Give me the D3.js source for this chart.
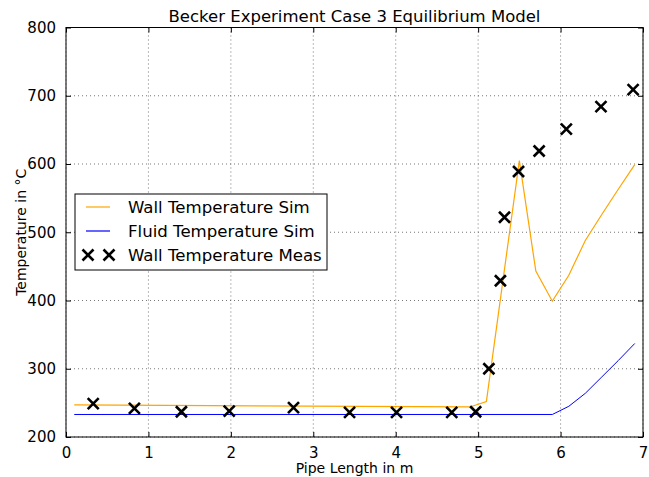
<!DOCTYPE html>
<html>
<head>
<meta charset="utf-8">
<script src="https://cdn.jsdelivr.net/npm/d3@7/dist/d3.min.js"></script>
<style>
  body { margin: 0; background: #fff; }
  svg { font-family: "DejaVu Sans", sans-serif; }
</style>
</head>
<body>
<div id="chart"></div>
<script>
  // wall temperature from the simulation
  var wallSimX = [0.1, 4.9, 5.1, 5.5, 5.7, 5.9, 6.1, 6.3, 6.5, 6.7, 6.9];
  var wallSimT = [247, 244, 252, 605, 443, 399, 437, 488, 526, 563, 599];

  // fluid temperature from the simulation
  var fluidSimX = [0.1, 5.9, 6.1, 6.3, 6.5, 6.7, 6.9];
  var fluidSimT = [233, 233, 245, 264, 288, 312, 337];

  // measured wall temperature
  var wallMeasX = [0.33, 0.83, 1.40, 1.98, 2.76, 3.44, 4.01, 4.68, 4.97, 5.13, 5.27, 5.32, 5.49, 5.74, 6.07, 6.49, 6.88];
  var wallMeasT = [249, 242, 237, 238, 243, 236, 236, 236, 237, 300, 429, 522, 589, 619, 651, 684, 709];

  var xTicks = [0, 1, 2, 3, 4, 5, 6, 7];
  var yTicks = [200, 300, 400, 500, 600, 700, 800];

  var seriesNames = ["Wall Temperature Sim", "Fluid Temperature Sim", "Wall Temperature Meas"];
  var seriesColors = ["#ffa500", "#0000ff", "#000000"];

  var width = 649, height = 477;
  var margin = {top: 27.5, right: 6, bottom: 40, left: 66};
  var innerW = width - margin.left - margin.right,
    innerH = height - margin.top - margin.bottom;

  var svg = d3.select("#chart")
    .append("svg")
    .attr("width", width)
    .attr("height", height);

  var g = svg.append("g")
    .attr("transform", "translate(" + margin.left + "," + margin.top + ")");

  var x = d3.scaleLinear().domain([0, 7]).range([0, innerW]);
  var y = d3.scaleLinear().domain([200, 800]).range([innerH, 0]);

  // dotted grid
  g.append("g")
    .selectAll("line")
    .data(xTicks)
    .enter().append("line")
    .attr("x1", function (d) { return x(d); })
    .attr("x2", function (d) { return x(d); })
    .attr("y1", 0)
    .attr("y2", innerH)
    .attr("stroke", "#555")
    .attr("stroke-width", 0.8)
    .attr("stroke-dasharray", "1,3");

  g.append("g")
    .selectAll("line")
    .data(yTicks)
    .enter().append("line")
    .attr("x1", 0)
    .attr("x2", innerW)
    .attr("y1", function (d) { return y(d); })
    .attr("y2", function (d) { return y(d); })
    .attr("stroke", "#555")
    .attr("stroke-width", 0.8)
    .attr("stroke-dasharray", "1,3");

  // axes, ticks pointing inward on all sides
  var xAxis = d3.axisBottom(x).tickValues(xTicks).tickFormat(d3.format("d"))
    .tickSizeInner(-5).tickSizeOuter(0).tickPadding(10);
  var yAxis = d3.axisLeft(y).tickValues(yTicks).tickFormat(d3.format("d"))
    .tickSizeInner(-5).tickSizeOuter(0).tickPadding(10);

  g.append("g")
    .attr("class", "x axis")
    .attr("transform", "translate(0," + innerH + ")")
    .call(xAxis);
  g.append("g")
    .attr("class", "y axis")
    .call(yAxis);
  g.append("g")
    .call(d3.axisTop(x).tickValues(xTicks).tickSizeInner(-5).tickSizeOuter(0).tickFormat(""));
  g.append("g")
    .attr("transform", "translate(" + innerW + ",0)")
    .call(d3.axisRight(y).tickValues(yTicks).tickSizeInner(-5).tickSizeOuter(0).tickFormat(""));

  g.selectAll(".domain").remove();
  g.selectAll(".tick text")
    .attr("font-size", "15px")
    .attr("font-family", "DejaVu Sans")
    .attr("fill", "#000");
  g.selectAll(".tick line").attr("stroke", "#000");

  g.append("rect")
    .attr("width", innerW)
    .attr("height", innerH)
    .attr("fill", "none")
    .attr("stroke", "#000")
    .attr("stroke-width", 1);

  var line = d3.line()
    .x(function (d) { return x(d[0]); })
    .y(function (d) { return y(d[1]); });

  var wallSim = wallSimX.map(function (d, i) { return [d, wallSimT[i]]; });
  var fluidSim = fluidSimX.map(function (d, i) { return [d, fluidSimT[i]]; });
  var wallMeas = wallMeasX.map(function (d, i) { return [d, wallMeasT[i]]; });

  g.append("path")
    .datum(wallSim)
    .attr("d", line)
    .attr("fill", "none")
    .attr("stroke", seriesColors[0])
    .attr("stroke-width", 1.2);

  g.append("path")
    .datum(fluidSim)
    .attr("d", line)
    .attr("fill", "none")
    .attr("stroke", seriesColors[1])
    .attr("stroke-width", 1);

  var cross = function (sel) {
    var s = 5.5;
    sel.append("path")
      .attr("d", "M" + (-s) + "," + (-s) + "L" + s + "," + s + "M" + (-s) + "," + s + "L" + s + "," + (-s))
      .attr("stroke", seriesColors[2])
      .attr("stroke-width", 2.6)
      .attr("fill", "none");
  };

  g.append("g")
    .selectAll("g")
    .data(wallMeas)
    .enter().append("g")
    .attr("transform", function (d) { return "translate(" + x(d[0]) + "," + y(d[1]) + ")"; })
    .call(cross);

  // legend
  var legend = svg.append("g").attr("transform", "translate(75,194)");
  legend.append("rect")
    .attr("width", 252)
    .attr("height", 76)
    .attr("fill", "#fff")
    .attr("stroke", "#000")
    .attr("stroke-width", 1);

  var rows = legend.selectAll(".legend")
    .data(seriesNames)
    .enter().append("g")
    .attr("class", "legend")
    .attr("transform", function (d, i) { return "translate(0," + (13 + i * 24) + ")"; });

  rows.each(function (d, i) {
    var r = d3.select(this);
    if (i < 2) {
      r.append("line")
        .attr("x1", 11).attr("x2", 35)
        .attr("y1", 0).attr("y2", 0)
        .attr("stroke", seriesColors[i])
        .attr("stroke-width", 1.2);
    } else {
      r.append("g").attr("transform", "translate(13,0)").call(cross);
      r.append("g").attr("transform", "translate(34,0)").call(cross);
    }
  });

  rows.append("text")
    .attr("x", 53)
    .attr("dy", "0.36em")
    .attr("font-size", "16.6px")
    .text(function (d) { return d; });

  svg.append("text")
    .attr("x", margin.left + innerW / 2)
    .attr("y", 22)
    .attr("text-anchor", "middle")
    .attr("font-size", "16.5px")
    .text("Becker Experiment Case 3 Equilibrium Model");

  svg.append("text")
    .attr("x", margin.left + innerW / 2)
    .attr("y", 473)
    .attr("text-anchor", "middle")
    .attr("font-size", "14px")
    .text("Pipe Length in m");

  svg.append("text")
    .attr("transform", "translate(26," + (margin.top + innerH / 2) + ") rotate(-90)")
    .attr("text-anchor", "middle")
    .attr("font-size", "14px")
    .text("Temperature in °C");
</script>
</body>
</html>
